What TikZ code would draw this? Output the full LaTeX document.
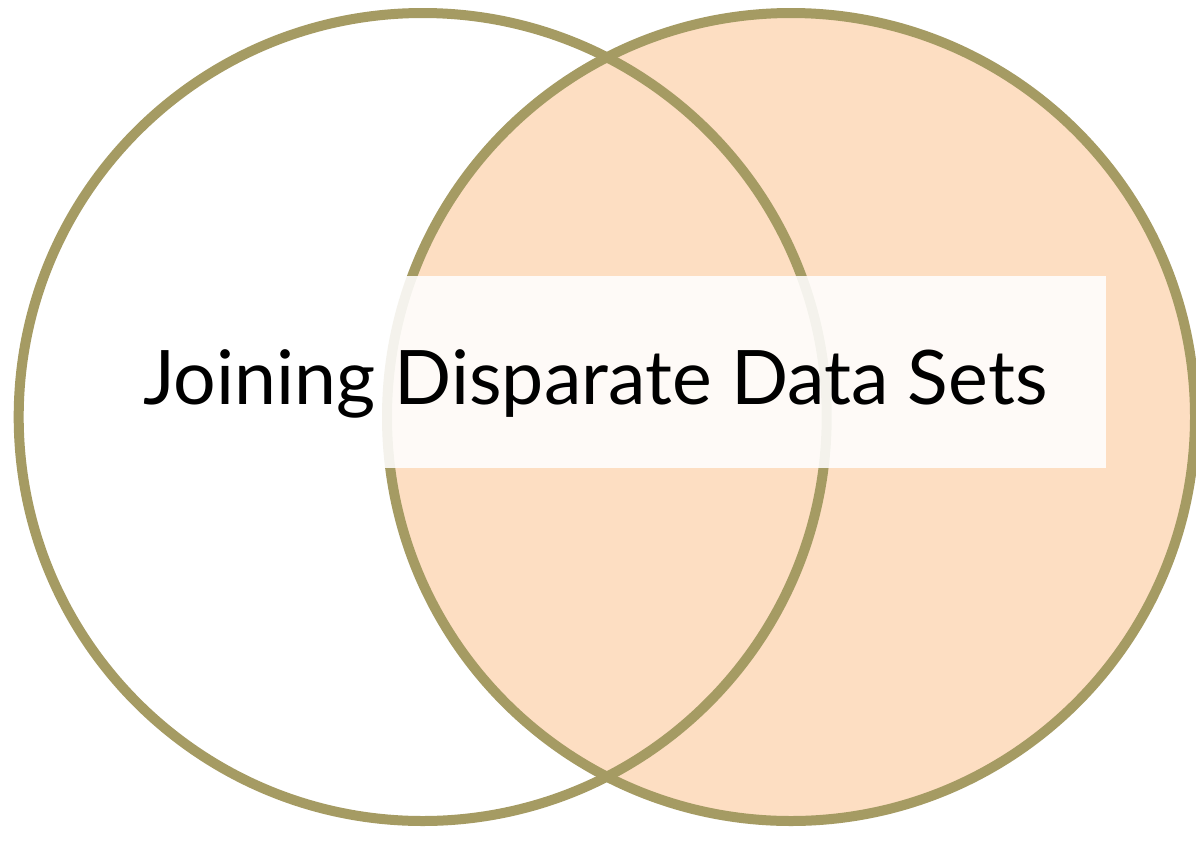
\documentclass[tikz,border=0pt]{standalone}
\usepackage{fontspec}
\setmainfont{Lato}
\definecolor{olive}{HTML}{A59B63}
\definecolor{peach}{HTML}{FDDEC2}
\begin{document}
\begin{tikzpicture}[x=1pt,y=-1pt,
  ring/.style={draw=olive,line width=10pt},
  label/.style={inner sep=0pt,anchor=base west,font=\fontsize{72}{80}\selectfont}]
\useasboundingbox[fill=white] (0,0) rectangle (1196,860);
\fill[peach] (791,417) circle (404);
\draw[ring] (422.7,417) circle (404);
\draw[ring] (791,417) circle (404);
\fill[white,opacity=0.88] (100,276) rectangle (1106,468);
\node[label] (title) at (143,404) {\resizebox{904pt}{!}{Joining Disparate Data Sets}};
\end{tikzpicture}
\end{document}
